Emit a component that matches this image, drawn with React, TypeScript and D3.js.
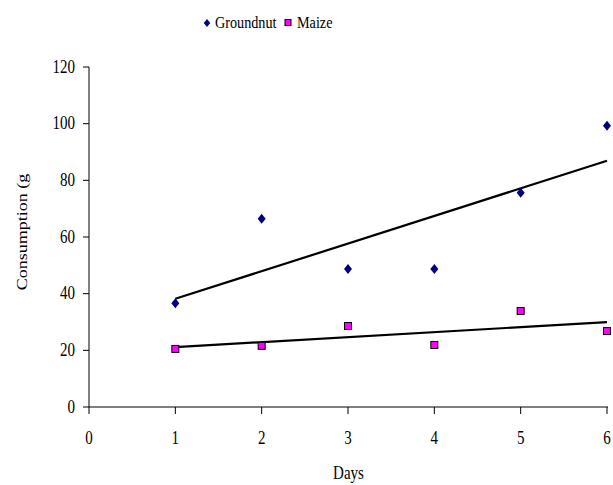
import { useEffect, useRef } from 'react'
import * as d3 from 'd3'

const WIDTH = 613
const HEIGHT = 485
const MARGIN = { top: 67, right: 5, bottom: 78, left: 89 }
const FONT = '"Liberation Serif", "Times New Roman", serif'
const STRETCH = 1.2 // the reference text is stretched vertically

const days = [1, 2, 3, 4, 5, 6]
const groundnut = [36.6, 66.4, 48.7, 48.7, 75.6, 99.3]
const maize = [20.5, 21.6, 28.6, 21.9, 33.9, 26.8]
const xTicks = [0, 1, 2, 3, 4, 5, 6]
const yTicks = [0, 20, 40, 60, 80, 100, 120]

function fit(xs: number[], ys: number[]) {
  const mx = d3.mean(xs)!
  const my = d3.mean(ys)!
  const sxy = d3.sum(xs, (x, i) => (x - mx) * (ys[i] - my))
  const sxx = d3.sum(xs, x => (x - mx) ** 2)
  const slope = sxy / sxx
  return (x: number) => my + slope * (x - mx)
}

export default function App() {
  const svgRef = useRef<SVGSVGElement>(null)

  useEffect(() => {
    const svg = d3.select(svgRef.current!)
    svg.selectAll('*').remove()

    const innerW = WIDTH - MARGIN.left - MARGIN.right
    const innerH = HEIGHT - MARGIN.top - MARGIN.bottom
    const x = d3.scaleLinear([0, 6], [0, innerW - 1])
    const y = d3.scaleLinear([0, 120], [innerH, 0])

    const g = svg.append('g').attr('transform', `translate(${MARGIN.left},${MARGIN.top})`)

    // ── Axes ──
    g.append('line')
      .attr('x1', 0).attr('x2', 0).attr('y1', 0).attr('y2', innerH)
      .attr('stroke', '#000').attr('stroke-width', 1)
    g.append('line')
      .attr('x1', 0).attr('x2', innerW).attr('y1', innerH).attr('y2', innerH)
      .attr('stroke', '#000').attr('stroke-width', 1)

    yTicks.forEach(t => {
      g.append('line')
        .attr('x1', -6).attr('x2', 0).attr('y1', y(t)).attr('y2', y(t))
        .attr('stroke', '#000')
      g.append('text')
        .attr('transform', `translate(-14,${y(t) + 5.5}) scale(1,${STRETCH})`)
        .attr('text-anchor', 'end').attr('font-family', FONT).attr('font-size', 15)
        .text(t)
    })

    xTicks.forEach(t => {
      g.append('line')
        .attr('x1', x(t)).attr('x2', x(t)).attr('y1', innerH).attr('y2', innerH + 7)
        .attr('stroke', '#000')
      g.append('text')
        .attr('transform', `translate(${x(t)},${innerH + 37}) scale(1,${STRETCH})`)
        .attr('text-anchor', 'middle').attr('font-family', FONT).attr('font-size', 15)
        .text(t)
    })

    // Axis titles
    svg.append('text')
      .attr('transform', `translate(${MARGIN.left + innerW / 2},479) scale(1,${STRETCH})`)
      .attr('text-anchor', 'middle').attr('font-family', FONT).attr('font-size', 15)
      .text('Days')
    svg.append('text')
      .attr('transform', `translate(27,232) rotate(-90) scale(${STRETCH},1)`)
      .attr('text-anchor', 'middle').attr('font-family', FONT).attr('font-size', 15)
      .text('Consumption (g')

    // ── Trendlines ──
    const series = [
      { values: groundnut },
      { values: maize },
    ]
    series.forEach(s => {
      const f = fit(days, s.values)
      g.append('line')
        .attr('x1', x(days[0])).attr('y1', y(f(days[0])))
        .attr('x2', x(days[days.length - 1])).attr('y2', y(f(days[days.length - 1])))
        .attr('stroke', '#000').attr('stroke-width', 2.2)
    })

    // ── Markers ──
    const diamond = 'M0,-5 L4,0 L0,5 L-4,0 Z'
    days.forEach((d, i) => {
      g.append('path')
        .attr('d', diamond)
        .attr('transform', `translate(${x(d)},${y(groundnut[i])})`)
        .attr('fill', '#000080')
    })
    days.forEach((d, i) => {
      g.append('rect')
        .attr('x', x(d) - 3.5).attr('y', y(maize[i]) - 3.5)
        .attr('width', 7).attr('height', 7)
        .attr('fill', '#FF00FF').attr('stroke', '#000').attr('stroke-width', 1)
    })

    // ── Legend ──
    const lg = svg.append('g')
    lg.append('path').attr('d', 'M0,-4 L3.3,0 L0,4 L-3.3,0 Z')
      .attr('transform', 'translate(207,23)').attr('fill', '#000080')
    lg.append('text')
      .attr('transform', `translate(215,28) scale(1,${STRETCH})`)
      .attr('font-family', FONT).attr('font-size', 14.2)
      .text('Groundnut')
    lg.append('rect')
      .attr('x', 285).attr('y', 19.5).attr('width', 6).attr('height', 6)
      .attr('fill', '#FF00FF').attr('stroke', '#000').attr('stroke-width', 1)
    lg.append('text')
      .attr('transform', `translate(297,28) scale(1,${STRETCH})`)
      .attr('font-family', FONT).attr('font-size', 14.2)
      .text('Maize')
  }, [])

  return (
    <svg
      ref={svgRef}
      width={WIDTH}
      height={HEIGHT}
      style={{ position: 'absolute', left: 0, top: 0, background: '#fff' }}
    />
  )
}
